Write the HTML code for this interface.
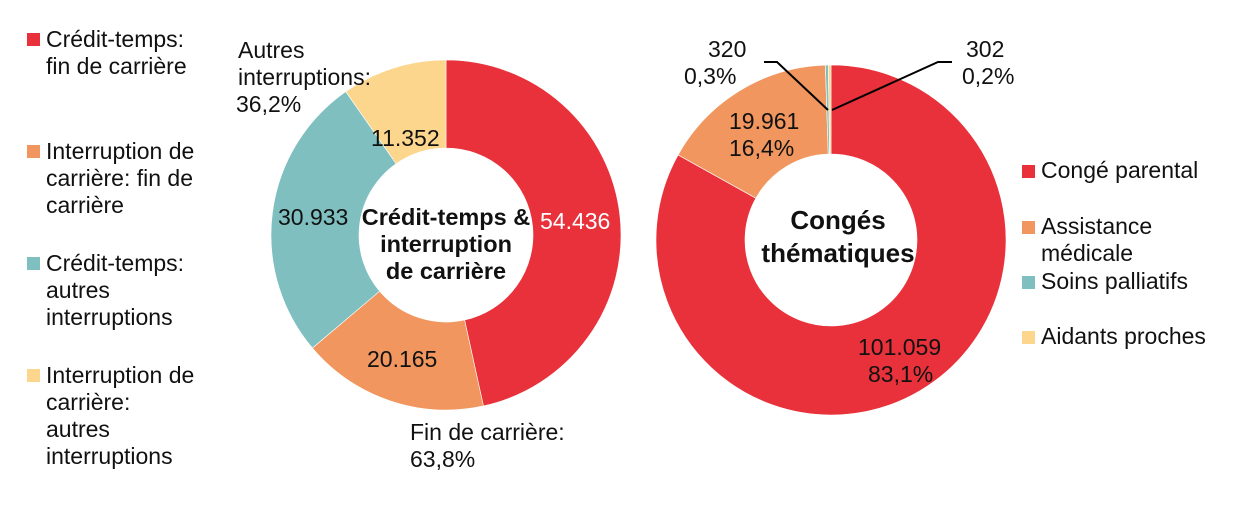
<!DOCTYPE html>
<html><head><meta charset="utf-8"><style>
body{margin:0;background:#fff;width:1243px;height:522px;overflow:hidden}
svg, svg text{font-family:"Liberation Sans",Arial,Helvetica,sans-serif}
</style></head><body>
<svg id="s" width="1243" height="522" xmlns="http://www.w3.org/2000/svg">
<g id="d"></g>
<g font-size="23" fill="#111">
<rect x="27" y="33" width="13" height="13" fill="#E8313A"/>
<text x="46" y="47">Crédit-temps:</text><text x="46" y="74">fin de carrière</text>
<rect x="27" y="145" width="13" height="13" fill="#F0965E"/>
<text x="46" y="159">Interruption de</text><text x="46" y="186">carrière: fin de</text><text x="46" y="213">carrière</text>
<rect x="27" y="257" width="13" height="13" fill="#7FBFBF"/>
<text x="46" y="271">Crédit-temps:</text><text x="46" y="298">autres</text><text x="46" y="325">interruptions</text>
<rect x="27" y="369" width="13" height="13" fill="#FDD68E"/>
<text x="46" y="383">Interruption de</text><text x="46" y="410">carrière:</text><text x="46" y="437">autres</text><text x="46" y="464">interruptions</text>

<text x="238" y="58">Autres</text><text x="238" y="85">interruptions:</text><text x="236" y="112">36,2%</text>
<text x="371" y="146">11.352</text>
<text x="278" y="225">30.933</text>
<text x="540" y="229" fill="#fff">54.436</text>
<text x="367" y="367">20.165</text>
<text x="410" y="440">Fin de carrière:</text><text x="410" y="467">63,8%</text>
<g font-weight="bold" text-anchor="middle" font-size="23.5"><text x="446" y="225">Crédit-temps &amp;</text><text x="446" y="252">interruption</text><text x="446" y="279">de carrière</text></g>

<text x="708" y="57">320</text><text x="684" y="84">0,3%</text>
<text x="966" y="57">302</text><text x="962" y="84">0,2%</text>
<text x="729" y="129">19.961</text><text x="729" y="156">16,4%</text>
<text x="858" y="355">101.059</text><text x="868" y="382">83,1%</text>
<g font-weight="bold" text-anchor="middle" font-size="26"><text x="838" y="229">Congés</text><text x="838" y="262">thématiques</text></g>
<rect x="1022" y="165" width="13" height="13" fill="#E8313A"/><text x="1041" y="178">Congé parental</text>
<rect x="1022" y="221" width="13" height="13" fill="#F0965E"/><text x="1041" y="234">Assistance</text><text x="1041" y="261">médicale</text>
<rect x="1022" y="276" width="13" height="13" fill="#7FBFBF"/><text x="1041" y="289">Soins palliatifs</text>
<rect x="1022" y="331" width="13" height="13" fill="#FDD68E"/><text x="1041" y="344">Aidants proches</text>
</g>
<polyline points="764,62 777,62 828,110" fill="none" stroke="#000" stroke-width="2"/>
<polyline points="832,110 938,62 952,62" fill="none" stroke="#000" stroke-width="2"/>
</svg>
<script>
function donut(cx,cy,R,r,vals,cols){
 var t=vals.reduce((a,b)=>a+b,0),a=0,h='';
 vals.forEach(function(v,i){
  var b=a+v/t*2*Math.PI,l=(b-a)>Math.PI?1:0;
  function p(rr,ang){return [cx+rr*Math.sin(ang),cy-rr*Math.cos(ang)];}
  var p1=p(R,a),p2=p(R,b),p3=p(r,b),p4=p(r,a);
  h+='<path d="M'+p1+' A'+R+','+R+' 0 '+l+' 1 '+p2+' L'+p3+' A'+r+','+r+' 0 '+l+' 0 '+p4+'Z" fill="'+cols[i]+'" stroke="#fff" stroke-width="0.6"/>';
  a=b;});
 return h;}
var c=['#E8313A','#F0965E','#7FBFBF','#FDD68E'];
document.getElementById('d').innerHTML=donut(446,235,175,87,[54436,20165,30933,11352],c)+donut(831,240,175,86,[101059,19961,320,302],c);
</script>
</body></html>
